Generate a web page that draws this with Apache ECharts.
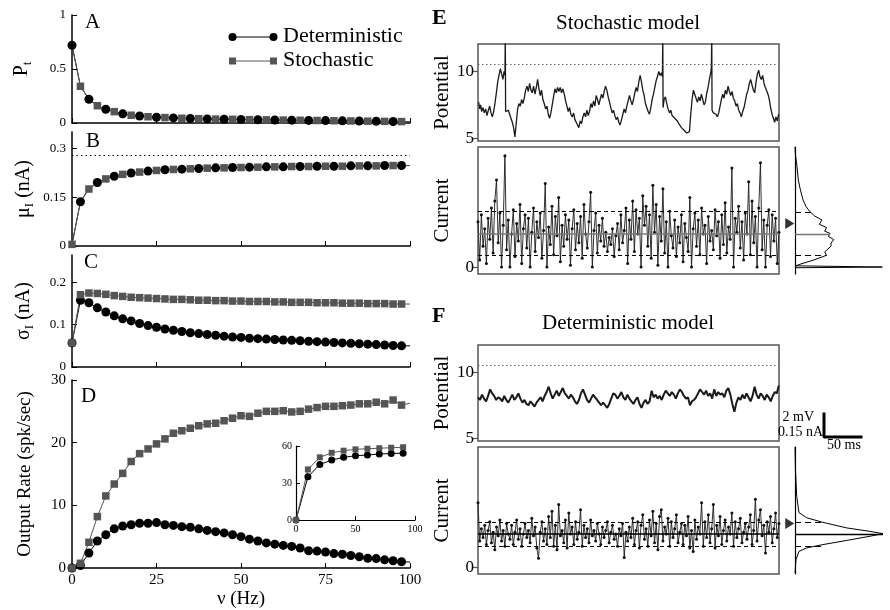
<!DOCTYPE html>
<html>
<head>
<meta charset="utf-8">
<script src="https://cdn.jsdelivr.net/npm/echarts@6/dist/echarts.min.js"></script>
<style>
  html, body { margin: 0; padding: 0; background: #fff; }
  #chart { width: 890px; height: 610px; }
</style>
</head>
<body>
<div id="chart"></div>
<script>
// input rate axis (Hz)
const nu = [0, 2.5, 5, 7.5, 10, 12.5, 15, 17.5, 20, 22.5, 25, 27.5, 30, 32.5, 35, 37.5, 40, 42.5, 45, 47.5,
  50, 52.5, 55, 57.5, 60, 62.5, 65, 67.5, 70, 72.5, 75, 77.5, 80, 82.5, 85, 87.5, 90, 92.5, 95, 97.5, 100];

// A: P_t (same for both models)
const ptValues = [0.72, 0.34, 0.22, 0.16, 0.127, 0.105, 0.085, 0.072, 0.065, 0.058, 0.053, 0.05, 0.047, 0.044,
  0.042, 0.04, 0.038, 0.036, 0.035, 0.034, 0.033, 0.031, 0.03, 0.029, 0.028, 0.027, 0.026, 0.025, 0.024,
  0.023, 0.022, 0.021, 0.02, 0.019, 0.018, 0.017, 0.016, 0.015, 0.014, 0.013, 0.013];

// B: mean current (nA)
const muValues = [0.005, 0.136, 0.175, 0.195, 0.206, 0.214, 0.22, 0.224, 0.227, 0.23, 0.232, 0.234, 0.235,
  0.236, 0.237, 0.238, 0.239, 0.24, 0.24, 0.241, 0.241, 0.242, 0.242, 0.243, 0.243, 0.243, 0.244, 0.244,
  0.244, 0.245, 0.245, 0.245, 0.245, 0.246, 0.246, 0.246, 0.246, 0.247, 0.247, 0.247, 0.247];
const muLimit = 0.28;

// C: current s.d. (nA)
const sigmaStoch = [0.057, 0.171, 0.175, 0.174, 0.172, 0.169, 0.167, 0.165, 0.164, 0.163, 0.162, 0.161, 0.16,
  0.16, 0.159, 0.158, 0.158, 0.157, 0.157, 0.156, 0.156, 0.155, 0.155, 0.155, 0.154, 0.154, 0.153, 0.153,
  0.153, 0.152, 0.152, 0.152, 0.151, 0.151, 0.151, 0.15, 0.15, 0.15, 0.149, 0.149, 0.149];
const sigmaDet = [0.057, 0.158, 0.152, 0.14, 0.13, 0.121, 0.114, 0.109, 0.103, 0.098, 0.094, 0.09, 0.087,
  0.084, 0.081, 0.079, 0.077, 0.075, 0.073, 0.071, 0.07, 0.068, 0.067, 0.066, 0.065, 0.064, 0.063, 0.062,
  0.061, 0.06, 0.059, 0.058, 0.057, 0.056, 0.055, 0.054, 0.053, 0.052, 0.051, 0.05, 0.05];

// D: output rate (spk/sec)
const rateStoch = [0, 0.75, 4.1, 8.2, 11.5, 13.4, 15.1, 17.0, 18.25, 19.0, 19.8, 20.6, 21.5, 21.9, 22.3, 22.7,
  23.0, 23.1, 23.5, 23.9, 24.3, 24.2, 24.7, 25.0, 25.0, 25.1, 24.9, 25.0, 25.35, 25.6, 25.8, 25.8, 25.9,
  26.0, 26.2, 26.2, 26.45, 26.2, 26.8, 26.0, 26.3];
const rateDet = [0, 0.4, 2.4, 4.3, 5.3, 6.25, 6.7, 6.9, 7.15, 7.15, 7.25, 6.9, 6.8, 6.6, 6.5, 6.25, 6.0, 5.8,
  5.6, 5.3, 5.0, 4.6, 4.3, 4.0, 3.8, 3.6, 3.45, 3.2, 2.75, 2.7, 2.55, 2.3, 2.2, 2.0, 1.8, 1.55, 1.5, 1.3,
  1.15, 1.0, 0.95];

// D inset
const insetNu = [0, 10, 20, 30, 40, 50, 60, 70, 80, 90];
const insetStoch = [0, 41, 50.8, 54.5, 56.2, 57.3, 57.8, 58.2, 58.6, 59.0];
const insetDet = [0, 35, 45, 48.6, 50.8, 52.1, 52.7, 53.5, 53.9, 54.2];

// E/F: membrane potential (ms, mV)
const threshold = 10.5;
const potStoch = [[0.9,7.7],[2.3,7.2],[3.6,7.5],[5,7.0],[6.8,7.3],[8.6,6.9],[10.4,7.2],[12.2,6.7],[14.1,7.1],
  [15.9,7.4],[17.7,6.9],[19.5,6.6],[21.3,7.0],[23.1,7.6],[25,8.4],[26.8,9.2],[28.6,9.7],[30.4,10.2],[32.2,9.8],
  [34,9.4],[35.4,10.0],[36.7,9.7],[37.2,13],[37.6,7.0],[39.5,6.9],[41.3,7.1],[43.1,6.8],[44.9,6.5],[46.7,6.2],
  [48.5,5.8],[50.3,5.1],[52.2,6.2],[54,7.2],[55.8,7.6],[57.6,7.4],[59.4,7.9],[61.2,7.6],[63,8.0],[64.9,8.6],
  [66.7,8.9],[68.5,8.5],[70.3,9.1],[72.1,8.6],[73.9,8.4],[75.7,8.9],[77.6,8.3],[79.4,8.8],[81.2,9.4],[83,8.7],
  [84.8,8.2],[86.6,8.6],[88.4,7.9],[90.2,7.6],[92.1,7.2],[93.9,7.4],[95.7,6.8],[97.5,6.5],[99.3,6.9],[101.1,7.5],
  [102.9,8.1],[104.8,8.7],[106.6,8.4],[108.4,8.8],[110.2,8.5],[112,8.8],[113.8,8.4],[115.6,8.7],[117.5,8.3],
  [119.3,7.8],[121.1,7.4],[122.9,7.0],[124.7,7.3],[126.5,6.8],[128.3,6.6],[130.2,6.9],[132,6.4],[133.8,6.2],
  [135.6,6.0],[137.4,5.8],[139.2,6.3],[141,6.1],[142.9,6.6],[144.7,6.9],[146.5,6.6],[148.3,7.1],[150.1,6.7],
  [151.9,7.0],[153.7,7.6],[155.5,7.3],[157.4,7.8],[159.2,7.4],[161,8.2],[162.8,7.9],[164.6,7.5],[166.4,7.9],
  [168.2,8.3],[170.1,8.0],[171.9,8.5],[173.7,8.9],[175.5,8.6],[177.3,8.1],[179.1,7.7],[180.9,7.3],[182.8,6.9],
  [184.6,7.1],[186.4,6.7],[188.2,6.4],[190,6.6],[191.8,6.2],[193.6,6.0],[195.5,6.4],[197.3,6.8],[199.1,7.2],
  [200.9,6.9],[202.7,7.4],[204.5,7.8],[206.3,8.2],[208.2,7.8],[210,7.5],[211.8,7.9],[213.6,8.4],[215.4,8.8],
  [217.2,8.5],[219,9.2],[220.9,9.7],[222.7,9.2],[224.5,8.6],[226.3,8.2],[228.1,7.6],[229.9,7.3],[231.7,7.0],
  [233.6,6.8],[235.4,7.3],[237.2,7.9],[239,8.3],[240.8,8.8],[242.6,9.3],[244.4,9.6],[246.3,10.0],[248.1,9.7],
  [249.9,9.9],[251.2,9.6],[251.7,13],[252.1,7.3],[253.5,7.9],[255.3,8.1],[257.1,7.6],[258.9,7.2],[260.8,6.9],
  [262.6,7.1],[264.4,6.7],[266.2,6.8],[268,6.5],[269.8,6.6],[271.6,6.3],[273.5,6.1],[275.3,6.0],[277.1,5.8],
  [278.9,5.9],[280.7,5.6],[282.5,5.7],[284.3,5.4],[286.2,5.3],[288,5.5],[289.8,6.8],[291.6,7.9],[293.4,8.6],
  [295.2,8.3],[297,8.0],[298.9,7.7],[300.7,8.1],[302.5,7.8],[304.3,8.3],[306.1,7.9],[307.9,7.5],[309.7,7.7],
  [311.6,8.4],[313.4,8.8],[315.2,9.4],[317,9.9],[317.9,10.3],[318.4,13],[318.8,7.1],[320.6,6.9],[322.4,7.0],
  [324.3,6.8],[326.1,6.6],[327.9,6.9],[329.7,7.4],[331.5,7.9],[333.3,8.3],[335.1,8.0],[337,8.6],[338.8,8.3],
  [340.6,8.9],[342.4,8.5],[344.2,8.2],[346,8.5],[347.8,8.0],[349.7,7.8],[351.5,7.4],[353.3,7.6],[355.1,7.1],
  [356.9,6.9],[358.7,6.6],[360.5,7.0],[362.4,7.3],[364.2,7.8],[366,8.3],[367.8,8.6],[369.6,9.1],[371.4,9.4],
  [373.2,9.0],[375.1,8.6],[376.9,8.4],[378.7,9.2],[380.5,9.8],[382.3,10.1],[384.1,9.6],[385.9,9.4],[387.8,9.7],
  [389.6,9.1],[391.4,8.8],[393.2,8.9],[395,8.3],[396.8,7.9],[398.6,7.3],[400.5,6.8],[402.3,6.5],[404.1,6.2],
  [405.9,6.6],[407.7,6.3],[409.5,6.8]];

const potStepMs = 2.75;
const potDet = [8.1, 7.9, 8.3, 8.0, 7.8, 8.2, 8.7, 8.4, 8.2, 7.9,
  8.1, 8.0, 7.8, 8.2, 7.9, 7.7, 8.0, 8.3, 7.9, 8.1,
  8.4, 8.0, 7.7, 7.9, 7.6, 7.5, 7.8, 7.6, 7.4, 7.7,
  7.9, 8.1, 7.8, 8.2, 8.5, 8.9, 8.4, 8.0, 8.3, 8.6,
  8.2, 8.5, 8.8, 8.4, 8.2, 8.0, 8.3, 8.1, 7.8, 7.6,
  7.9, 8.4, 8.7, 8.3, 7.9, 7.7, 8.0, 8.3, 8.1, 7.9,
  7.7, 7.5, 7.7, 7.5, 7.3, 7.6, 8.0, 8.4, 8.3, 8.0,
  8.2, 8.5, 8.1, 7.9, 8.3, 8.0, 7.8, 7.6, 7.9, 8.1,
  7.6, 7.3, 7.7, 7.9, 7.6, 7.8, 8.6, 8.1, 8.3, 8.0,
  8.2, 7.9, 8.3, 8.6, 8.4, 8.2, 8.5, 8.3, 8.0, 8.4,
  8.7, 8.5, 8.2, 8.0, 8.1, 7.5, 7.8, 7.9, 8.1, 8.4,
  8.7, 8.5, 8.3, 8.6, 8.2, 8.4, 8.0, 8.7, 8.2, 8.5,
  8.3, 8.4, 8.1, 8.6, 8.8, 8.3, 7.6, 7.0, 7.7, 8.1,
  7.9, 8.3, 8.0, 8.4, 8.1, 7.8, 8.2, 8.9, 8.3, 8.0,
  8.4, 8.2, 7.9, 8.3, 8.1, 7.8, 8.2, 8.5, 8.4, 9.0];

// E/F: synaptic current (nA), one sample per currentStepMs
const currentStepMs = 2.29;
const curStoch = [0.26, 0.04, 0.30, 0.12, 0.22, 0.02, 0.28, 0.16, 0.34, 0.08,
  0.38, 0.50, 0.14, 0.31, 0.00, 0.24, 0.64, 0.10, 0.27, 0.00,
  0.19, 0.33, 0.06, 0.25, 0.15, 0.36, 0.02, 0.22, 0.30, 0.11,
  0.28, 0.00, 0.20, 0.34, 0.09, 0.26, 0.17, 0.31, 0.05, 0.21,
  0.48, 0.00, 0.23, 0.13, 0.35, 0.07, 0.29, 0.18, 0.40, 0.03,
  0.24, 0.12, 0.30, 0.16, 0.27, 0.01, 0.22, 0.33, 0.10, 0.25,
  0.14, 0.29, 0.05, 0.36, 0.19, 0.11, 0.26, 0.43, 0.00, 0.21,
  0.31, 0.08, 0.24, 0.15, 0.28, 0.12, 0.20, 0.09, 0.17, 0.13,
  0.22, 0.06, 0.18, 0.25, 0.10, 0.30, 0.14, 0.21, 0.34, 0.02,
  0.27, 0.16, 0.38, 0.09, 0.33, 0.19, 0.28, 0.00, 0.41, 0.24,
  0.35, 0.12, 0.30, 0.05, 0.47, 0.20, 0.36, 0.01, 0.29, 0.15,
  0.45, 0.08, 0.26, 0.00, 0.32, 0.18, 0.11, 0.27, 0.06, 0.23,
  0.14, 0.30, 0.03, 0.25, 0.17, 0.09, 0.40, 0.00, 0.22, 0.31,
  0.12, 0.27, 0.07, 0.34, 0.19, 0.24, 0.02, 0.29, 0.15, 0.21,
  0.10, 0.33, 0.18, 0.26, 0.05, 0.30, 0.13, 0.37, 0.08, 0.23,
  0.16, 0.57, 0.00, 0.28, 0.20, 0.35, 0.11, 0.26, 0.04, 0.31,
  0.19, 0.49, 0.07, 0.38, 0.14, 0.29, 0.00, 0.34, 0.60, 0.10,
  0.27, 0.00, 0.24, 0.33, 0.06, 0.30, 0.15, 0.28, 0.02, 0.20];
const curDet = [0.37, 0.15, 0.22, 0.17, 0.24, 0.13, 0.21, 0.26, 0.14, 0.20,
  0.10, 0.23, 0.18, 0.27, 0.15, 0.21, 0.12, 0.25, 0.19, 0.16,
  0.24, 0.13, 0.20, 0.27, 0.16, 0.22, 0.12, 0.19, 0.25, 0.17,
  0.21, 0.14, 0.28, 0.18, 0.23, 0.11, 0.05, 0.20, 0.26, 0.15,
  0.22, 0.13, 0.29, 0.17, 0.32, 0.12, 0.24, 0.10, 0.36, 0.18,
  0.21, 0.14, 0.27, 0.11, 0.31, 0.19, 0.23, 0.13, 0.26, 0.16,
  0.20, 0.33, 0.12, 0.24, 0.17, 0.22, 0.14, 0.27, 0.18, 0.21,
  0.15, 0.25, 0.19, 0.13, 0.23, 0.17, 0.21, 0.26, 0.14, 0.20,
  0.24, 0.16, 0.19, 0.12, 0.22, 0.18, 0.25, 0.055, 0.20, 0.15,
  0.23, 0.17, 0.28, 0.13, 0.21, 0.26, 0.11, 0.24, 0.30, 0.16,
  0.22, 0.12, 0.27, 0.18, 0.32, 0.14, 0.25, 0.10, 0.29, 0.33,
  0.15, 0.23, 0.19, 0.28, 0.12, 0.26, 0.17, 0.22, 0.30, 0.14,
  0.20, 0.25, 0.13, 0.24, 0.18, 0.29, 0.11, 0.21, 0.09, 0.27,
  0.16, 0.23, 0.19, 0.37, 0.12, 0.26, 0.17, 0.30, 0.14, 0.22,
  0.36, 0.11, 0.24, 0.18, 0.29, 0.13, 0.21, 0.27, 0.15, 0.23,
  0.19, 0.31, 0.12, 0.26, 0.17, 0.22, 0.28, 0.14, 0.20, 0.25,
  0.16, 0.23, 0.30, 0.13, 0.21, 0.39, 0.15, 0.27, 0.33, 0.18,
  0.24, 0.08, 0.26, 0.20, 0.29, 0.14, 0.22, 0.31, 0.17, 0.25];

// current statistics: mean, mean + sd, mean - sd, triangle marker
const statsStoch = { mean: 0.19, hi: 0.315, lo: 0.067, mark: 0.25 };
const statsDet = { mean: 0.19, hi: 0.26, lo: 0.119, mark: 0.25 };

// current histograms: [density, current]
const histStoch = [[0, 0.69], [0.005, 0.645], [0.02, 0.587], [0.037, 0.5], [0.06, 0.443], [0.09, 0.385],
  [0.12, 0.35], [0.167, 0.317], [0.22, 0.293], [0.3, 0.27], [0.27, 0.246], [0.35, 0.227], [0.33, 0.206],
  [0.39, 0.193], [0.37, 0.177], [0.43, 0.158], [0.4, 0.137], [0.4, 0.12], [0.33, 0.087], [0.35, 0.0675],
  [0.2, 0.039], [0.055, 0.016], [0.01, 0.007], [0.97, 0.0], [0, -0.004]];
const histDet = [[0, 0.69], [0.005, 0.561], [0.019, 0.407], [0.044, 0.313], [0.13, 0.283], [0.31, 0.257],
  [0.574, 0.225], [0.833, 0.205], [0.978, 0.192], [0.833, 0.177], [0.574, 0.153], [0.31, 0.129],
  [0.13, 0.11], [0.044, 0.09], [0.011, 0.042], [0, -0.033]];
const histLinesStoch = { hi: 0.185, mean: 0.39, lo: 0.35 };
const histLinesDet = { hi: 0.31, mean: 0.978, lo: 0.31 };

const serif = 'Liberation Serif';
const grayInk = '#555';

function pairs(xs, ys) {
  return xs.map((x, i) => [x, ys[i]]);
}
function stepped(ys, step) {
  return ys.map((y, i) => [i * step, y]);
}

const chart = echarts.init(document.getElementById('chart'));

const leftGrids = [
  { left: 72, top: 15, width: 338, height: 108 },
  { left: 72, top: 132, width: 338, height: 114 },
  { left: 72, top: 255, width: 338, height: 112 },
  { left: 72, top: 380, width: 338, height: 189 },
  { left: 296, top: 446, width: 119, height: 74 },
];
const rightGrids = [
  { left: 478, top: 44, width: 301, height: 97, show: true, borderColor: grayInk, borderWidth: 1.5 },
  { left: 478, top: 147, width: 301, height: 127, show: true, borderColor: grayInk, borderWidth: 1.5 },
  { left: 795, top: 147, width: 90, height: 127 },
  { left: 478, top: 345, width: 301, height: 96, show: true, borderColor: grayInk, borderWidth: 1.5 },
  { left: 478, top: 447, width: 301, height: 127, show: true, borderColor: grayInk, borderWidth: 1.5 },
  { left: 795, top: 447, width: 90, height: 127 },
  { left: 824, top: 414, width: 37, height: 23 },
  { left: 232.5, top: 37, width: 41, height: 24 },
];

function rateXAxis(gridIndex, withLabels) {
  return {
    type: 'value', gridIndex, min: 0, max: 100,
    axisLine: { lineStyle: { color: '#000', width: 1.5 } },
    axisTick: { inside: true, length: 5, customValues: [0, 25, 50, 75, 100], lineStyle: { color: '#000' } },
    axisLabel: withLabels
      ? { show: true, customValues: [0, 25, 50, 75, 100], fontFamily: serif, fontSize: 15, color: '#000', margin: 5 }
      : { show: false },
    splitLine: { show: false },
    name: withLabels ? 'ν (Hz)' : '',
    nameLocation: 'middle', nameGap: 22,
    nameTextStyle: { fontFamily: serif, fontSize: 19, color: '#000' },
  };
}

const nameRich = {
  i: { fontFamily: serif, fontSize: 20, color: '#000', lineHeight: 24 },
  s: { fontFamily: serif, fontSize: 13, color: '#000', lineHeight: 13, verticalAlign: 'bottom' },
};

function leftYAxis(gridIndex, max, ticks, name, gap, fontSize) {
  return {
    type: 'value', gridIndex, min: 0, max,
    axisLine: { show: true, lineStyle: { color: '#000', width: 1.5 } },
    axisTick: { show: true, inside: true, length: 5, customValues: ticks, lineStyle: { color: '#000' } },
    axisLabel: { customValues: ticks, fontFamily: serif, fontSize, color: '#000', margin: 6 },
    splitLine: { show: false },
    name, nameLocation: 'middle', nameGap: gap,
    nameTextStyle: { fontFamily: serif, fontSize: 19, color: '#000', rich: nameRich },
  };
}

function boxYAxis(gridIndex, min, max, ticks, name) {
  return {
    type: 'value', gridIndex, min, max,
    axisLine: { show: false },
    axisTick: { show: true, inside: false, length: 6, customValues: ticks, lineStyle: { color: grayInk, width: 1.2 } },
    axisLabel: { customValues: ticks, fontFamily: serif, fontSize: 17, color: '#000', margin: 4 },
    splitLine: { show: false },
    name, nameLocation: 'middle', nameGap: 25,
    nameTextStyle: { fontFamily: serif, fontSize: 21, color: '#000' },
  };
}

function hiddenAxis(gridIndex, min, max) {
  return { type: 'value', gridIndex, min, max, show: false, splitLine: { show: false } };
}

function histYAxis(gridIndex) {
  return {
    type: 'value', gridIndex, min: -0.04, max: 0.69,
    axisLine: { show: true, lineStyle: { color: '#000', width: 1.2 } },
    axisTick: { show: false }, axisLabel: { show: false }, splitLine: { show: false },
  };
}

const xAxes = [
  rateXAxis(0, false), rateXAxis(1, false), rateXAxis(2, false), rateXAxis(3, true),
  {
    type: 'value', gridIndex: 4, min: 0, max: 100,
    axisLine: { lineStyle: { color: '#000', width: 1.2 } },
    axisTick: { inside: true, length: 4, customValues: [0, 50, 100], lineStyle: { color: '#000' } },
    axisLabel: { customValues: [0, 50, 100], fontFamily: serif, fontSize: 10, color: '#000', margin: 4 },
    splitLine: { show: false },
  },
  hiddenAxis(5, 0, 410), hiddenAxis(6, 0, 410), hiddenAxis(7, 0, 1),
  hiddenAxis(8, 0, 410), hiddenAxis(9, 0, 410), hiddenAxis(10, 0, 1),
  hiddenAxis(11, 0, 50), hiddenAxis(12, 0, 1),
];

const yAxes = [
  leftYAxis(0, 1, [0, 0.5, 1], '{i|P}{s|t}', 38, 13),
  leftYAxis(1, 0.35, [0, 0.15, 0.3], '{i|μ}{s|I}{i| (nA)}', 36, 13),
  leftYAxis(2, 0.265, [0, 0.1, 0.2], '{i|σ}{s|I}{i| (nA)}', 36, 13),
  leftYAxis(3, 30, [0, 10, 20, 30], 'Output Rate (spk/sec)', 37, 15),
  {
    type: 'value', gridIndex: 4, min: 0, max: 60,
    axisLine: { show: true, lineStyle: { color: '#000', width: 1.2 } },
    axisTick: { show: true, inside: true, length: 4, customValues: [0, 30, 60], lineStyle: { color: '#000' } },
    axisLabel: { customValues: [0, 30, 60], fontFamily: serif, fontSize: 10, color: '#000', margin: 4 },
    splitLine: { show: false },
  },
  boxYAxis(5, 4.8, 12.05, [5, 10], 'Potential'),
  boxYAxis(6, -0.04, 0.69, [0], 'Current'),
  histYAxis(7),
  boxYAxis(8, 4.8, 12.05, [5, 10], 'Potential'),
  boxYAxis(9, -0.04, 0.69, [0], 'Current'),
  histYAxis(10),
  hiddenAxis(11, 0, 2), hiddenAxis(12, 0, 1),
];

const detStyle = { color: '#000', lineWidth: 1, size: 9 };
const stoStyle = { color: grayInk, lineWidth: 1, size: 7.5 };

function rateSeries(axisIndex, data, style, symbol, shown, size) {
  return {
    type: 'line', xAxisIndex: axisIndex, yAxisIndex: axisIndex, data,
    symbol: (value, params) => (shown(params.dataIndex) ? symbol : 'none'),
    symbolSize: size || style.size,
    showAllSymbol: true,
    lineStyle: { color: style.color, width: style.lineWidth },
    itemStyle: { color: style.color, borderWidth: 0 },
    silent: true,
  };
}

const even = (i) => i % 2 === 0 && i < 40;
const odd = (i) => i % 2 === 1 && i < 40;
const all = (i) => i < 40;

function statLines(stats, meanColor) {
  return {
    symbol: 'none', silent: true, label: { show: false },
    data: [
      { yAxis: stats.hi, lineStyle: { type: [4, 3], color: '#000', width: 1 } },
      { yAxis: stats.mean, lineStyle: { type: 'solid', color: meanColor, width: 1.5 } },
      { yAxis: stats.lo, lineStyle: { type: [4, 3], color: '#000', width: 1 } },
    ],
  };
}

function histLines(stats, lens, meanColor) {
  return {
    symbol: 'none', silent: true, label: { show: false },
    data: [
      [{ coord: [0, stats.hi], lineStyle: { type: [6, 4], color: '#000', width: 1 } }, { coord: [lens.hi, stats.hi] }],
      [{ coord: [0, stats.mean], lineStyle: { type: 'solid', color: meanColor, width: 1.3 } }, { coord: [lens.mean, stats.mean] }],
      [{ coord: [0, stats.lo], lineStyle: { type: [6, 4], color: '#000', width: 1 } }, { coord: [lens.lo, stats.lo] }],
    ],
  };
}

function traceSeries(axisIndex, data, width, dots, extra) {
  return Object.assign({
    type: 'line', xAxisIndex: axisIndex, yAxisIndex: axisIndex, data,
    symbol: dots ? 'circle' : 'none', symbolSize: 3, showAllSymbol: true,
    lineStyle: { color: '#1a1a1a', width },
    itemStyle: { color: '#111' },
    silent: true,
  }, extra || {});
}

function thresholdLine() {
  return {
    symbol: 'none', silent: true, label: { show: false },
    data: [{ yAxis: threshold, lineStyle: { type: [1.5, 2.5], color: '#666', width: 1 } }],
  };
}

function histSeries(axisIndex, data, stats, lens, meanColor) {
  return {
    type: 'line', xAxisIndex: axisIndex, yAxisIndex: axisIndex, data,
    symbol: 'none', lineStyle: { color: '#000', width: 1 }, silent: true, clip: false,
    markLine: histLines(stats, lens, meanColor),
  };
}

function markerSeries(axisIndex, y) {
  return {
    type: 'scatter', xAxisIndex: axisIndex, yAxisIndex: axisIndex, data: [[-0.058, y]],
    symbol: 'triangle', symbolRotate: -90, symbolSize: [11, 9], clip: false,
    itemStyle: { color: '#000' }, silent: true,
  };
}

const series = [
  // A
  rateSeries(0, pairs(nu, ptValues), detStyle, 'circle', even),
  rateSeries(0, pairs(nu, ptValues), stoStyle, 'rect', odd),
  // B
  Object.assign(rateSeries(1, pairs(nu, muValues), detStyle, 'circle', odd), {
    markLine: {
      symbol: 'none', silent: true, label: { show: false },
      data: [{ yAxis: muLimit, lineStyle: { type: [1.5, 3], color: '#000', width: 1 } }],
    },
  }),
  rateSeries(1, pairs(nu, muValues), stoStyle, 'rect', even),
  // C
  rateSeries(2, pairs(nu, sigmaDet), detStyle, 'circle', all),
  rateSeries(2, pairs(nu, sigmaStoch), stoStyle, 'rect', all),
  // D
  rateSeries(3, pairs(nu, rateDet), detStyle, 'circle', all),
  rateSeries(3, pairs(nu, rateStoch), stoStyle, 'rect', all),
  // inset
  rateSeries(4, pairs(insetNu, insetDet), detStyle, 'circle', () => true, 7),
  rateSeries(4, pairs(insetNu, insetStoch), stoStyle, 'rect', () => true, 6),
  // E
  traceSeries(5, potStoch, 1.3, false, { markLine: thresholdLine() }),
  traceSeries(6, stepped(curStoch, currentStepMs), 0.9, true, { markLine: statLines(statsStoch, '#777') }),
  histSeries(7, histStoch, statsStoch, histLinesStoch, '#777'),
  markerSeries(7, statsStoch.mark),
  // F
  traceSeries(8, stepped(potDet, potStepMs), 2, false, { markLine: thresholdLine() }),
  traceSeries(9, stepped(curDet, currentStepMs), 0.9, true, { markLine: statLines(statsDet, '#000') }),
  histSeries(10, histDet, statsDet, histLinesDet, '#000'),
  markerSeries(10, statsDet.mark),
  // scale bar: 50 ms / 2 mV (0.15 nA)
  {
    type: 'line', xAxisIndex: 11, yAxisIndex: 11, data: [[0, 2], [0, 0], [50, 0]],
    symbol: 'none', clip: false, lineStyle: { color: '#000', width: 3, cap: 'square' }, silent: true,
  },
  // legend samples
  {
    type: 'line', xAxisIndex: 12, yAxisIndex: 12, data: [[0, 1], [1, 1]],
    symbol: 'circle', symbolSize: 8, clip: false, lineStyle: { color: '#000', width: 1 },
    itemStyle: { color: '#000' }, silent: true,
  },
  {
    type: 'line', xAxisIndex: 12, yAxisIndex: 12, data: [[0, 0], [1, 0]],
    symbol: 'rect', symbolSize: 7, clip: false, lineStyle: { color: grayInk, width: 1 },
    itemStyle: { color: grayInk }, silent: true,
  },
];

function label(text, left, top, fontSize, extra) {
  return {
    text, left, top, padding: 0,
    textStyle: Object.assign({ fontFamily: serif, fontSize, fontWeight: 'normal', color: '#000' }, extra || {}),
  };
}
function centered(text, cx, top, fontSize) {
  return Object.assign(label(text, cx, top, fontSize), { textAlign: 'center' });
}
function rightAligned(text, rx, top, fontSize) {
  return Object.assign(label(text, rx, top, fontSize), { textAlign: 'right' });
}

const titles = [
  label('A', 85, 12, 21),
  label('B', 86, 131, 21),
  label('C', 84, 252, 21),
  label('D', 81, 386, 21),
  label('E', 432, 7, 22, { fontWeight: 'bold' }),
  label('F', 432, 305, 22, { fontWeight: 'bold' }),
  centered('Stochastic model', 628, 13, 21),
  centered('Deterministic model', 628, 313, 21),
  label('Deterministic', 283, 25, 22),
  label('Stochastic', 283, 49, 22),
  rightAligned('2 mV', 814, 410, 14),
  rightAligned('0.15 nA', 823, 425, 14),
  centered('50 ms', 844, 438, 14),
];

chart.setOption({
  animation: false,
  backgroundColor: '#fff',
  title: titles,
  grid: leftGrids.concat(rightGrids),
  xAxis: xAxes,
  yAxis: yAxes,
  series,
});
</script>
</body>
</html>
